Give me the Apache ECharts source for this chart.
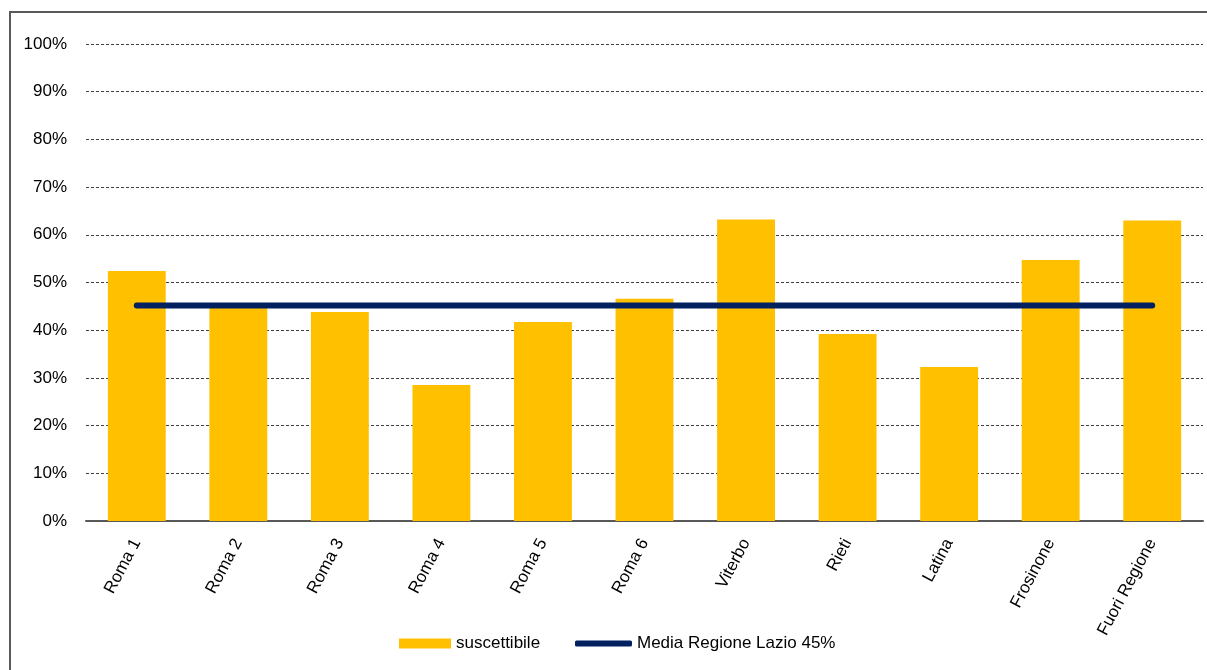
<!DOCTYPE html>
<html>
<head>
<meta charset="utf-8">
<script src="https://cdn.jsdelivr.net/npm/echarts@6/dist/echarts.min.js"></script>
<style>
html,body{margin:0;padding:0;background:#fff;}
#chart{width:1207px;height:670px;}
</style>
</head>
<body>
<div id="chart"></div>
<script>
const categories = ['Roma 1','Roma 2','Roma 3','Roma 4','Roma 5','Roma 6','Viterbo','Rieti','Latina','Frosinone','Fuori Regione'];
const suscettibile = [52.4, 45.3, 43.8, 28.5, 41.7, 46.6, 63.2, 39.2, 32.3, 54.7, 63.0];
const mediaLazio = [45.2, 45.2, 45.2, 45.2, 45.2, 45.2, 45.2, 45.2, 45.2, 45.2, 45.2];
const yTicks = [0, 10, 20, 30, 40, 50, 60, 70, 80, 90, 100];

const chart = echarts.init(document.getElementById('chart'), null, {renderer: 'canvas'});
const font = 'Liberation Sans, Arial, sans-serif';
chart.setOption({
  backgroundColor: '#fff',
  animation: false,
  textStyle: {fontFamily: font},
  graphic: [{
    type: 'rect',
    shape: {x: 10, y: 12, width: 1400, height: 1000},
    style: {fill: 'none', stroke: '#595959', lineWidth: 2},
    silent: true,
    z: -1
  }],
  grid: {left: 86, right: 4, top: 44, bottom: 149, containLabel: false},
  legend: [{
    left: 394, top: 630,
    itemWidth: 52, itemHeight: 10,
    textStyle: {fontFamily: font, fontSize: 17, color: '#000'},
    data: [{name: 'suscettibile', icon: 'rect'}]
  }, {
    left: 570, top: 630,
    itemWidth: 57, itemHeight: 6,
    textStyle: {fontFamily: font, fontSize: 17, color: '#000'},
    data: [{name: 'Media Regione Lazio 45%', icon: 'roundRect', itemStyle: {color: '#002060'}}]
  }],
  xAxis: {
    type: 'category',
    data: categories,
    boundaryGap: true,
    axisLine: {show: true, lineStyle: {color: '#595959', width: 2}},
    axisTick: {show: false},
    axisLabel: {rotate: 62, margin: 19, fontSize: 17, color: '#000', fontFamily: font, interval: 0}
  },
  yAxis: {
    type: 'value',
    min: yTicks[0], max: yTicks[yTicks.length - 1], interval: 10,
    axisLine: {show: false},
    axisTick: {show: false},
    axisLabel: {margin: 19, fontSize: 17, color: '#000', fontFamily: font, formatter: v => v + '%'},
    splitLine: {show: true, lineStyle: {color: '#404040', type: [3, 2], width: 1}}
  },
  series: [{
    name: 'suscettibile',
    type: 'bar',
    data: suscettibile,
    barWidth: '57%',
    itemStyle: {color: '#FFC000'},
    z: 2
  }, {
    name: 'Media Regione Lazio 45%',
    type: 'line',
    data: mediaLazio,
    symbol: 'none',
    lineStyle: {color: '#002060', width: 6, cap: 'round'},
    itemStyle: {color: '#002060'},
    z: 3
  }]
});
</script>
</body>
</html>
